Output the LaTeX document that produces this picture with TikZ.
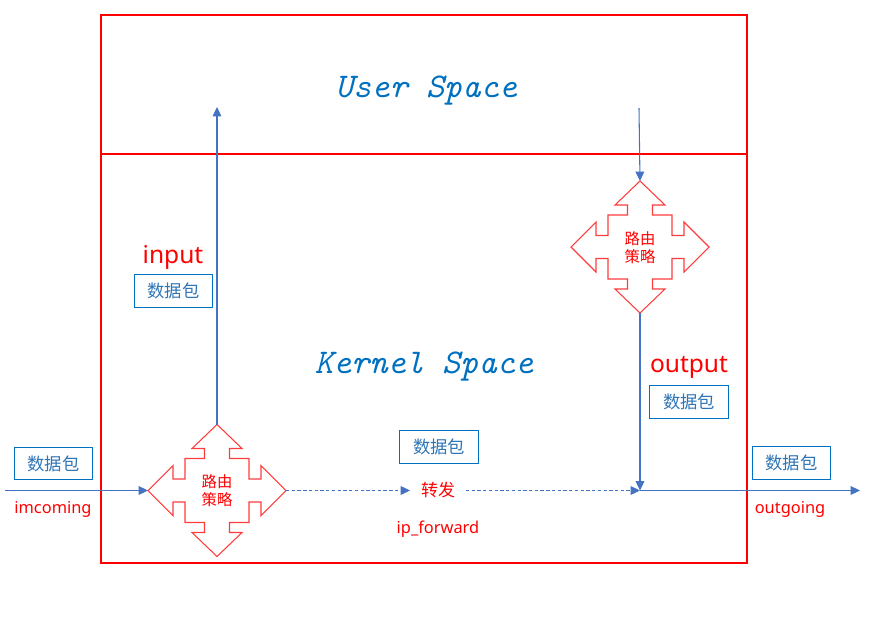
\documentclass[tikz,border=0pt]{standalone}
\usepackage{fontspec}
\setmainfont{Noto Sans}
\newfontfamily\cjk{Noto Sans CJK SC}
\usetikzlibrary{arrows.meta}
\definecolor{lineblue}{RGB}{68,114,196}
\definecolor{textblue}{RGB}{0,112,192}
\definecolor{boxtext}{RGB}{46,117,182}
\definecolor{pred}{RGB}{255,0,0}
\definecolor{shapered}{RGB}{255,60,60}
\tikzset{
  flow/.style={draw=lineblue, line width=0.8pt, -{Triangle[length=7pt,width=6.5pt]}},
  dashflow/.style={flow, dash pattern=on 2.5pt off 1.8pt},
  pkt/.style={draw=textblue, line width=0.8pt, text=boxtext, font=\cjk\fontsize{13}{15}\selectfont,
    minimum width=59pt, minimum height=24.5pt, inner sep=0pt},
  title/.style={text=textblue, font=\ttfamily\itshape\fontsize{26}{30}\selectfont, anchor=base},
  biglabel/.style={text=pred, font=\fontsize{18.4}{22}\selectfont, anchor=base},
  smalllabel/.style={text=pred, font=\fontsize{12.3}{14}\selectfont, anchor=base},
  route/.style={text=pred, font=\cjk\fontsize{11.5}{13.5}\selectfont, align=center, inner sep=0pt},
  pics/quadarrow/.style={code={
    \draw[shapered, line width=0.8pt, line join=miter]
      (0,-66) -- (25,-42) -- (12.5,-42) -- (12.5,-32) -- (32,-32) -- (32,-11.5) -- (44,-11.5) -- (44,-25)
      -- (69,0) -- (44,25) -- (44,11.5) -- (32,11.5) -- (32,32) -- (12.5,32) -- (12.5,42) -- (25,42)
      -- (0,66) -- (-25,42) -- (-12.5,42) -- (-12.5,32) -- (-32,32) -- (-32,11.5) -- (-44,11.5) -- (-44,25)
      -- (-69,0) -- (-44,-25) -- (-44,-11.5) -- (-32,-11.5) -- (-32,-32) -- (-12.5,-32) -- (-12.5,-42) -- (-25,-42) -- cycle;
    \coordinate (-top) at (0,-66);
    \coordinate (-bottom) at (0,66);
    \coordinate (-left) at (-69,0);
    \coordinate (-right) at (69,0);
  }}
}
\begin{document}
\begin{tikzpicture}[x=0.75pt, y=-0.75pt]
\useasboundingbox (0,0) rectangle (869,619);
% frame
\draw[pred, line width=0.8pt] (101,15) rectangle (747,563);
\coordinate (divL) at (101,154);
\coordinate (divR) at (747,154);
\draw[pred, line width=0.8pt] (divL) -- (divR);

% titles
\node[title] (us) at (426,97) {User Space};
\node[title] (ks) at (424,373) {Kernel Space};

% routing shapes
\pic (r1) at (217,490.5) {quadarrow};
\node[route] (r1t) at (217,491) {路由\\策略};
\pic (r2) at (640,247) {quadarrow};
\node[route] (r2t) at (640,247.5) {路由\\策略};

% labels
\node[biglabel] (inl) at (173,263) {input};
\node[biglabel] (outl) at (689,372) {output};
\node[smalllabel] (imc) at (53,513) {imcoming};
\node[smalllabel] (outg) at (790,513) {outgoing};
\node[smalllabel] (ipf) at (438,533) {ip\_forward};
\node[text=pred, font=\cjk\fontsize{12.75}{15}\selectfont, inner sep=8pt] (fwd) at (438,490) {转发};

% packet boxes
\node[pkt] (b1) at (53.5,463.5) {数据包};
\node[pkt] (b2) at (173.5,291) {数据包};
\node[pkt] (b3) at (439,447) {数据包};
\node[pkt] (b4) at (689,402) {数据包};
\node[pkt] (b5) at (791.5,463) {数据包};

% connectors
\coordinate (inStart) at (5,490.5);
\coordinate (upEnd) at (217,107);
\coordinate (downStart) at (639,108);
\coordinate (junc) at (640,490.5);
\coordinate (outEnd) at (860,490.5);
\coordinate (fwdIn) at (fwd.west |- junc);
\coordinate (fwdOut) at (fwd.east |- junc);

\draw[flow] (inStart) -- (r1-left);
\draw[flow] (r1-top) -- (upEnd);
\draw[dashflow] (r1-right) -- (fwdIn);
\draw[dashflow] (fwdOut) -- (junc);
\draw[flow] (downStart) -- (r2-top);
\draw[flow] (r2-bottom) -- (junc);
\draw[flow] (junc) -- (outEnd);
\end{tikzpicture}
\end{document}
